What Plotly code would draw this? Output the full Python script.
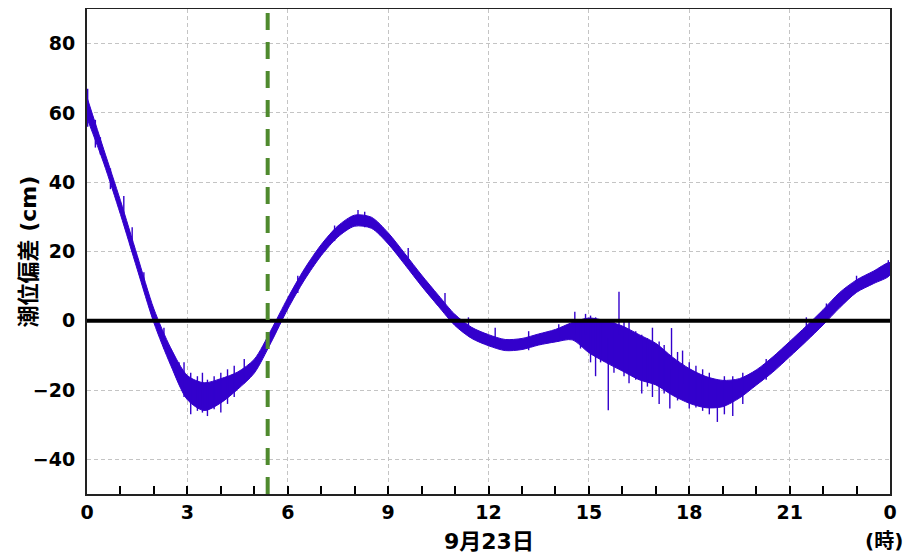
import numpy as np
import plotly.graph_objects as go

# ---- data (hours since 0:00 on 9/23, cm) ----
times_h = [0.0, 0.5, 1.0, 1.5, 2.0, 2.5, 3.0, 3.5, 4.0, 4.5, 5.0, 5.5,
           6.0, 6.5, 7.0, 7.5, 8.0, 8.5, 9.0, 9.5, 10.0, 10.5, 11.0, 11.5,
           12.0, 12.5, 13.0, 13.5, 14.0, 14.5, 15.0, 15.5, 16.0, 16.5, 17.0, 17.5,
           18.0, 18.5, 19.0, 19.5, 20.0, 20.5, 21.0, 21.5, 22.0, 22.5, 23.0, 23.5, 24.0]
level_cm = [61.5, 47.5, 32.7, 16.9, 1.4, -10.3, -19.3, -21.9, -20.2, -17.3, -13.1, -4.5,
            5.0, 13.4, 20.4, 25.8, 28.9, 28.3, 23.8, 17.8, 11.6, 5.8, 0.2, -3.5,
            -5.6, -7.0, -6.7, -5.4, -4.3, -3.0, -4.2, -6.0, -8.0, -10.5, -12.5, -16.0,
            -18.8, -20.6, -21.0, -19.5, -16.4, -12.6, -8.2, -3.7, 1.0, 6.0, 10.0, 12.5, 15.0]
spread_cm = [3.0, 2.0, 2.0, 2.0, 2.0, 2.5, 3.5, 4.0, 3.5, 2.5, 2.0, 1.8,
             1.6, 1.6, 1.6, 1.6, 1.6, 1.6, 1.6, 1.6, 1.6, 1.6, 1.6, 1.6,
             1.6, 1.6, 1.6, 1.6, 1.8, 2.5, 5.0, 6.0, 6.5, 6.5, 6.0, 5.5,
             5.0, 4.5, 3.8, 2.8, 2.2, 2.2, 2.2, 2.2, 2.2, 2.2, 1.8, 1.8, 1.8]
# isolated noise spikes: time, low end, high end
spike_t = [0.02, 0.25, 0.4, 0.7, 1.1, 1.35, 1.7, 2.3, 2.75, 2.9, 3.1, 3.3, 3.45, 3.6, 3.8,
           4.0, 4.2, 4.4, 4.7, 6.3, 7.4, 8.1, 8.3, 9.6, 10.7, 11.4, 12.2, 13.2, 14.1,
           14.58, 14.75, 14.9, 15.05, 15.2, 15.35, 15.58, 15.75, 15.9, 16.05, 16.2, 16.4,
           16.58, 16.75, 16.9, 17.1, 17.25, 17.42, 17.47, 17.65, 17.8, 18.0, 18.2, 18.4,
           18.6, 18.84, 19.05, 19.3, 19.6, 20.3, 21.5, 22.1, 23.0, 23.95]
spike_lo = [56.0, 50.0, 48.0, 38.0, 30.0, 20.0, 9.0, -8.0, -18.0, -22.0, -27.0, -26.0, -26.5,
            -27.5, -25.5, -26.5, -24.0, -22.0, -18.0, 8.0, 23.0, 27.5, 27.0, 16.0, 3.0,
            -3.5, -7.0, -8.5, -6.0, -4.0, -8.0, -4.0, -12.0, -16.0, -12.0, -25.8, -15.0,
            -4.0, -16.0, -18.0, -17.0, -21.0, -19.0, -22.0, -24.0, -21.0, -25.3, -14.0,
            -23.0, -18.0, -25.3, -25.0, -26.0, -27.0, -29.2, -27.0, -27.5, -24.0, -17.0,
            -5.0, 1.0, 9.0, 13.0]
spike_hi = [67.0, 58.0, 53.0, 44.0, 36.0, 27.0, 14.0, -2.0, -12.0, -12.0, -15.0, -16.0, -15.0,
            -17.0, -16.0, -15.0, -14.0, -13.0, -11.0, 13.0, 27.5, 32.0, 31.5, 21.0, 8.0,
            1.0, -2.0, -3.0, -1.0, 2.6, 0.5, 2.0, 1.5, 1.0, 0.0, -5.0, 0.5,
            8.4, 0.0, 0.0, -3.0, -4.0, -5.0, -2.0, -6.0, -7.0, -12.0, -2.1,
            -9.0, -8.6, -12.0, -13.0, -14.0, -15.0, -18.0, -16.0, -16.0, -15.0, -11.0,
            1.0, 5.0, 13.0, 17.5]
obs_time_h = 5.4   # green dashed marker

x_tickvals = [0, 3, 6, 9, 12, 15, 18, 21, 24]
x_ticktext = ["0", "3", "6", "9", "12", "15", "18", "21", "0"]
y_tickvals = [-40, -20, 0, 20, 40, 60, 80]

BLUE = "#3300cc"

t = np.array(times_h)
lv = np.array(level_cm)
sp = np.array(spread_cm)
upper = lv + sp
lower = lv - sp

fig = go.Figure()
fig.add_trace(go.Scatter(
    x=np.concatenate([t, t[::-1]]), y=np.concatenate([upper, lower[::-1]]),
    fill="toself", fillcolor=BLUE, line=dict(color=BLUE, width=1, shape="spline", smoothing=0.8),
    mode="lines", hoverinfo="skip", showlegend=False))

sx, sy = [], []
for ti, lo, hi in zip(spike_t, spike_lo, spike_hi):
    sx += [ti, ti, None]
    sy += [lo, hi, None]
fig.add_trace(go.Scatter(x=sx, y=sy, mode="lines",
                         line=dict(color=BLUE, width=1.4), showlegend=False))

# zero line (on top)
fig.add_shape(type="line", xref="paper", x0=0, x1=1, yref="y", y0=0, y1=0,
              line=dict(color="black", width=4), layer="above")
# observation marker
fig.add_shape(type="line", xref="x", x0=obs_time_h, x1=obs_time_h, yref="paper", y0=0, y1=1,
              line=dict(color="#4f8a2e", width=4, dash="17px,12px"), layer="above")

tick_font = dict(family="DejaVu Sans", size=19, color="black", weight="bold")
cjk_font = dict(family="DejaVu Sans, Noto Sans CJK JP", size=22, color="black", weight="bold")
unit_font = dict(family="DejaVu Sans, Noto Sans CJK JP", size=20, color="black", weight="bold")

# page body has an 8px margin: figure placed so that plot area is at x 87-890, y 9-494
fig.update_layout(
    width=907, height=551,
    margin=dict(l=79, r=25, t=1, b=65, autoexpand=False),
    paper_bgcolor="white", plot_bgcolor="white",
    showlegend=False,
    xaxis=dict(range=[0, 24], tickvals=x_tickvals, ticktext=x_ticktext,
               tickfont=tick_font, ticks="inside", ticklen=8, tickwidth=1.5, tickcolor="black",
               showgrid=True, gridcolor="#c4c4c4", griddash="4px,3px", gridwidth=1,
               minor=dict(dtick=1, ticks="inside", ticklen=8, tickwidth=1.5, tickcolor="black",
                          showgrid=False),
               showline=True, linecolor="#222", linewidth=2, mirror=True, zeroline=False,
               automargin=False),
    yaxis=dict(range=[-50, 90], tickvals=y_tickvals, tickfont=tick_font, ticks="",
               ticklabelstandoff=6,
               showgrid=True, gridcolor="#c4c4c4", griddash="4px,3px", gridwidth=1,
               showline=True, linecolor="#222", linewidth=2, mirror=True, zeroline=False,
               automargin=False),
)

fig.add_annotation(text="潮位偏差 (cm)", xref="paper", yref="paper", x=0, y=0.5,
                   xshift=-59, xanchor="center", yanchor="middle", textangle=-90,
                   showarrow=False, font=cjk_font)
fig.add_annotation(text="9月23日", xref="paper", yref="paper", x=0.5, y=0,
                   yshift=-47, xanchor="center", yanchor="middle", showarrow=False, font=cjk_font)
fig.add_annotation(text="(時)", xref="paper", yref="paper", x=1, y=0,
                   yshift=-47, xshift=-6, xanchor="center", yanchor="middle", showarrow=False,
                   font=unit_font)

fig.write_html("out.html")
